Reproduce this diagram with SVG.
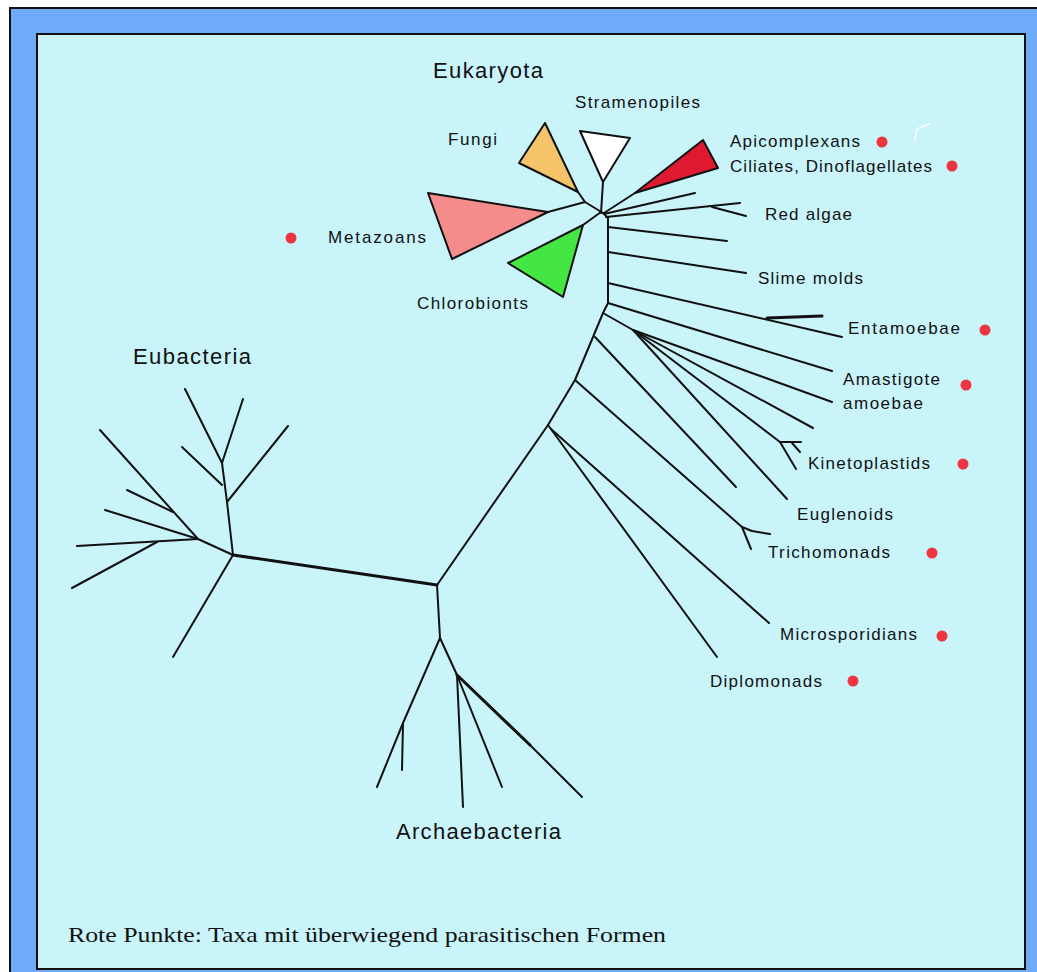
<svg xmlns="http://www.w3.org/2000/svg" width="1037" height="972" viewBox="0 0 1037 972">
<style>
.lbl{font-family:"Liberation Sans",Arial,Helvetica,sans-serif;font-size:17px;fill:#111}
.big{font-family:"Liberation Sans",Arial,Helvetica,sans-serif;font-size:22px;fill:#111}
.note{font-family:"Liberation Serif","Times New Roman",serif;font-size:22px;fill:#111}
.br{fill:none;stroke:#111;stroke-width:2;stroke-linecap:round;stroke-linejoin:round}
.thick{stroke-width:3}
.tri{stroke:#111;stroke-width:2;stroke-linejoin:round}
.dot{fill:#EE3540}
</style>
<rect x="0" y="0" width="1037" height="972" fill="#ffffff"/>
<rect x="10" y="8" width="1027" height="964" fill="#6DAAF8"/>
<path d="M10,972 V8 H1037" fill="none" stroke="#111" stroke-width="2"/>
<rect x="37" y="34" width="988" height="935" fill="#C8F4FA" stroke="#111" stroke-width="2"/>

<g id="connectors">
  <polyline class="br" points="548,212 585,202 603,213"/>
  <polyline class="br" points="578,192 585,202"/>
  <polyline class="br" points="603,182 601,213"/>
  <polyline class="br" points="583,225 601,212"/>
  <polyline class="br" points="635,193 604,213"/>
  <polyline class="br" points="604,214 695,193"/>
  <polyline class="br" points="606,217 740,203"/>
  <polyline class="br" points="712,207 746,216"/>
  <polyline class="br" points="603,213 608,218 608,303 603,313 593,337 575,380 548,425 437,585"/>
  <polyline class="br" points="608,227 727,241"/>
  <polyline class="br" points="608,252 746,273"/>
  <polyline class="br" points="608,283 842,337"/>
  <polyline class="br thick" points="767,318 822,316"/>
  <polyline class="br" points="608,303 832,371"/>
  <polyline class="br" points="603,313 633,330 813,428"/>
  <polyline class="br" points="633,330 832,402"/>
  <polyline class="br" points="633,330 780,442 796,469"/>
  <polyline class="br" points="780,442 801,442"/>
  <polyline class="br" points="792,443 800,452"/>
  <polyline class="br" points="633,330 787,499"/>
  <polyline class="br" points="595,337 736,487"/>
  <polyline class="br" points="575,380 742,527 751,549"/>
  <polyline class="br" points="742,527 752,531 770,534"/>
  <polyline class="br" points="551,429 769,623"/>
  <polyline class="br" points="548,425 717,657"/>
  <polyline class="br thick" points="437,585 233,555"/>
  <polyline class="br" points="233,555 227,502 222,463 185,389"/>
  <polyline class="br" points="222,463 243,399"/>
  <polyline class="br" points="222,485 182,447"/>
  <polyline class="br" points="227,502 288,426"/>
  <polyline class="br" points="233,555 173,657"/>
  <polyline class="br" points="233,555 198,539 100,430"/>
  <polyline class="br" points="173,512 127,490"/>
  <polyline class="br" points="198,539 105,510"/>
  <polyline class="br" points="198,539 77,546"/>
  <polyline class="br" points="157,542 72,588"/>
  <polyline class="br" points="437,585 440,638 403,723 377,787"/>
  <polyline class="br" points="403,723 402,770"/>
  <polyline class="br" points="440,638 457,675"/>
  <polyline class="br" points="457,675 463,807"/>
  <polyline class="br" points="457,675 502,787"/>
  <polyline class="br thick" points="457,675 530,745"/>
  <polyline class="br" points="530,745 582,797"/>
  <polyline fill="none" stroke="#ffffff" stroke-width="1.5" points="915,140 917,129 931,123"/>
</g>

<g id="fungi">
  <polygon class="tri" fill="#F5C46A" points="545,123 519,163 578,192"/>
  <text class="lbl" x="448" y="145" textLength="49" lengthAdjust="spacing">Fungi</text>
</g>
<g id="stramenopiles">
  <polygon class="tri" fill="#ffffff" points="580,131 630,138 603,182"/>
  <text class="lbl" x="575" y="108" textLength="125" lengthAdjust="spacing">Stramenopiles</text>
</g>
<g id="metazoans">
  <polygon class="tri" fill="#F48C8C" points="428,193 548,212 452,259"/>
  <text class="lbl" x="328" y="243" textLength="98" lengthAdjust="spacing">Metazoans</text>
  <circle class="dot" cx="291" cy="238" r="5.5"/>
</g>
<g id="chlorobionts">
  <polygon class="tri" fill="#44E644" points="508,263 583,225 563,297"/>
  <text class="lbl" x="417" y="309" textLength="111" lengthAdjust="spacing">Chlorobionts</text>
</g>
<g id="apicomplexans">
  <polygon class="tri" fill="#DD1A30" points="703,140 718,168 635,193"/>
  <text class="lbl" x="730" y="147" textLength="130" lengthAdjust="spacing">Apicomplexans</text>
  <circle class="dot" cx="882" cy="142" r="5.5"/>
  <text class="lbl" x="730" y="172" textLength="202" lengthAdjust="spacing">Ciliates, Dinoflagellates</text>
  <circle class="dot" cx="952" cy="166" r="5.5"/>
</g>
<g id="eukaryota"><text class="big" x="433" y="78" textLength="110" lengthAdjust="spacing">Eukaryota</text></g>
<g id="redalgae"><text class="lbl" x="765" y="220" textLength="87" lengthAdjust="spacing">Red algae</text></g>
<g id="slimemolds"><text class="lbl" x="758" y="284" textLength="105" lengthAdjust="spacing">Slime molds</text></g>
<g id="entamoebae">
  <text class="lbl" x="848" y="334" textLength="112" lengthAdjust="spacing">Entamoebae</text>
  <circle class="dot" cx="985" cy="330" r="5.5"/>
</g>
<g id="amastigote">
  <text class="lbl" x="843" y="385" textLength="97" lengthAdjust="spacing">Amastigote</text>
  <text class="lbl" x="843" y="409" textLength="80" lengthAdjust="spacing">amoebae</text>
  <circle class="dot" cx="966" cy="385" r="5.5"/>
</g>
<g id="kinetoplastids">
  <text class="lbl" x="808" y="469" textLength="122" lengthAdjust="spacing">Kinetoplastids</text>
  <circle class="dot" cx="963" cy="464" r="5.5"/>
</g>
<g id="euglenoids"><text class="lbl" x="797" y="520" textLength="96" lengthAdjust="spacing">Euglenoids</text></g>
<g id="trichomonads">
  <text class="lbl" x="768" y="558" textLength="122" lengthAdjust="spacing">Trichomonads</text>
  <circle class="dot" cx="932" cy="553" r="5.5"/>
</g>
<g id="microsporidians">
  <text class="lbl" x="780" y="640" textLength="137" lengthAdjust="spacing">Microsporidians</text>
  <circle class="dot" cx="942" cy="636" r="5.5"/>
</g>
<g id="diplomonads">
  <text class="lbl" x="710" y="687" textLength="112" lengthAdjust="spacing">Diplomonads</text>
  <circle class="dot" cx="853" cy="681" r="5.5"/>
</g>
<g id="eubacteria"><text class="big" x="133" y="364" textLength="118" lengthAdjust="spacing">Eubacteria</text></g>
<g id="archaebacteria"><text class="big" x="396" y="839" textLength="165" lengthAdjust="spacing">Archaebacteria</text></g>
<g id="legend"><text class="note" x="68" y="942" textLength="598" lengthAdjust="spacingAndGlyphs">Rote Punkte: Taxa mit überwiegend parasitischen Formen</text></g>
</svg>
